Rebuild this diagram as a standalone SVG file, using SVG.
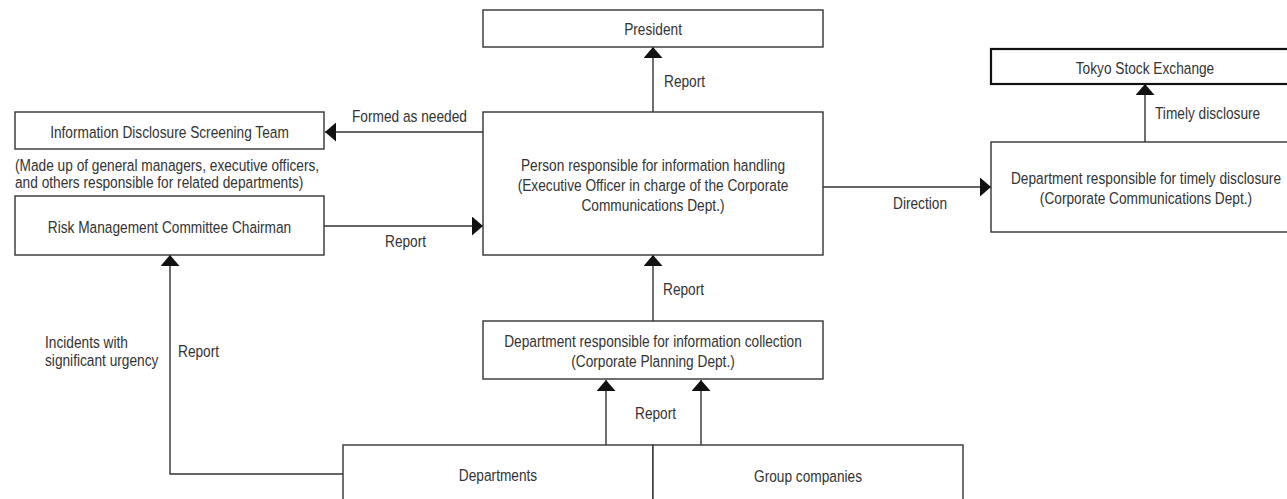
<svg xmlns="http://www.w3.org/2000/svg" width="1287" height="499" viewBox="0 0 1287 499">
  <style>
    .box { fill: #fff; stroke: #333; stroke-width: 1.4; }
    .box-strong { fill: #fff; stroke: #111; stroke-width: 2.2; }
    .edge { fill: none; stroke: #333; stroke-width: 1.4; }
    /* condensed face: narrow the regular sans horizontally */
    text { font-family: "Liberation Sans", Arial, sans-serif; font-size: 16.5px; fill: #333;
           transform-box: fill-box; transform-origin: 0 50%; transform: scaleX(0.83); }
    .c { text-anchor: middle; transform-origin: 50% 50%; }
  </style>
  <defs>
    <marker id="arrow" viewBox="0 0 11 19" refX="11" refY="9.5" markerWidth="11" markerHeight="19" markerUnits="userSpaceOnUse" orient="auto">
      <path d="M0,0 L11,9.5 L0,19 Z" fill="#111"/>
    </marker>
  </defs>

  <rect width="1287" height="499" fill="#fff"/>

  <!-- connectors -->
  <g id="connectors">
    <path class="edge" d="M653,112 V47" marker-end="url(#arrow)"/>
    <path class="edge" d="M483,132 H325" marker-end="url(#arrow)"/>
    <path class="edge" d="M324,226 H483" marker-end="url(#arrow)"/>
    <path class="edge" d="M823,187 H991" marker-end="url(#arrow)"/>
    <path class="edge" d="M1145,142 V84" marker-end="url(#arrow)"/>
    <path class="edge" d="M653,321 V255" marker-end="url(#arrow)"/>
    <path class="edge" d="M606,445 V380" marker-end="url(#arrow)"/>
    <path class="edge" d="M701,445 V380" marker-end="url(#arrow)"/>
    <path class="edge" d="M343,474 H170 V255" marker-end="url(#arrow)"/>

    <text x="664" y="87">Report</text>
    <text x="352" y="122">Formed as needed</text>
    <text x="385" y="247">Report</text>
    <text x="893" y="209">Direction</text>
    <text x="1155" y="119">Timely disclosure</text>
    <text x="663" y="295">Report</text>
    <text x="635" y="419">Report</text>
    <text x="178" y="357">Report</text>
    <text x="45" y="348">Incidents with</text>
    <text x="45" y="366">significant urgency</text>
  </g>

  <g id="president">
    <rect class="box" x="483" y="10" width="340" height="37"/>
    <text class="c" x="653" y="35">President</text>
  </g>

  <g id="screening-team">
    <rect class="box" x="15" y="112" width="309" height="37"/>
    <text class="c" x="169.5" y="138">Information Disclosure Screening Team</text>
    <text x="15" y="171">(Made up of general managers, executive officers,</text>
    <text x="15" y="188">and others responsible for related departments)</text>
  </g>

  <g id="risk-chairman">
    <rect class="box" x="15" y="196" width="309" height="59"/>
    <text class="c" x="169.5" y="233">Risk Management Committee Chairman</text>
  </g>

  <g id="info-handling">
    <rect class="box" x="483" y="112" width="340" height="143"/>
    <text class="c" x="653" y="171">Person responsible for information handling</text>
    <text class="c" x="653" y="191">(Executive Officer in charge of the Corporate</text>
    <text class="c" x="653" y="211">Communications Dept.)</text>
  </g>

  <g id="tokyo-stock-exchange">
    <rect class="box-strong" x="991" y="49" width="310" height="35"/>
    <text class="c" x="1145" y="74">Tokyo Stock Exchange</text>
  </g>

  <g id="timely-disclosure">
    <rect class="box" x="991" y="142" width="310" height="90"/>
    <text class="c" x="1146" y="184">Department responsible for timely disclosure</text>
    <text class="c" x="1146" y="204">(Corporate Communications Dept.)</text>
  </g>

  <g id="info-collection">
    <rect class="box" x="483" y="321" width="340" height="58"/>
    <text class="c" x="653" y="347">Department responsible for information collection</text>
    <text class="c" x="653" y="367">(Corporate Planning Dept.)</text>
  </g>

  <g id="departments">
    <rect class="box" x="343" y="445" width="310" height="70"/>
    <text class="c" x="498" y="481">Departments</text>
  </g>

  <g id="group-companies">
    <rect class="box" x="653" y="445" width="310" height="70"/>
    <text class="c" x="808" y="482">Group companies</text>
  </g>
</svg>
